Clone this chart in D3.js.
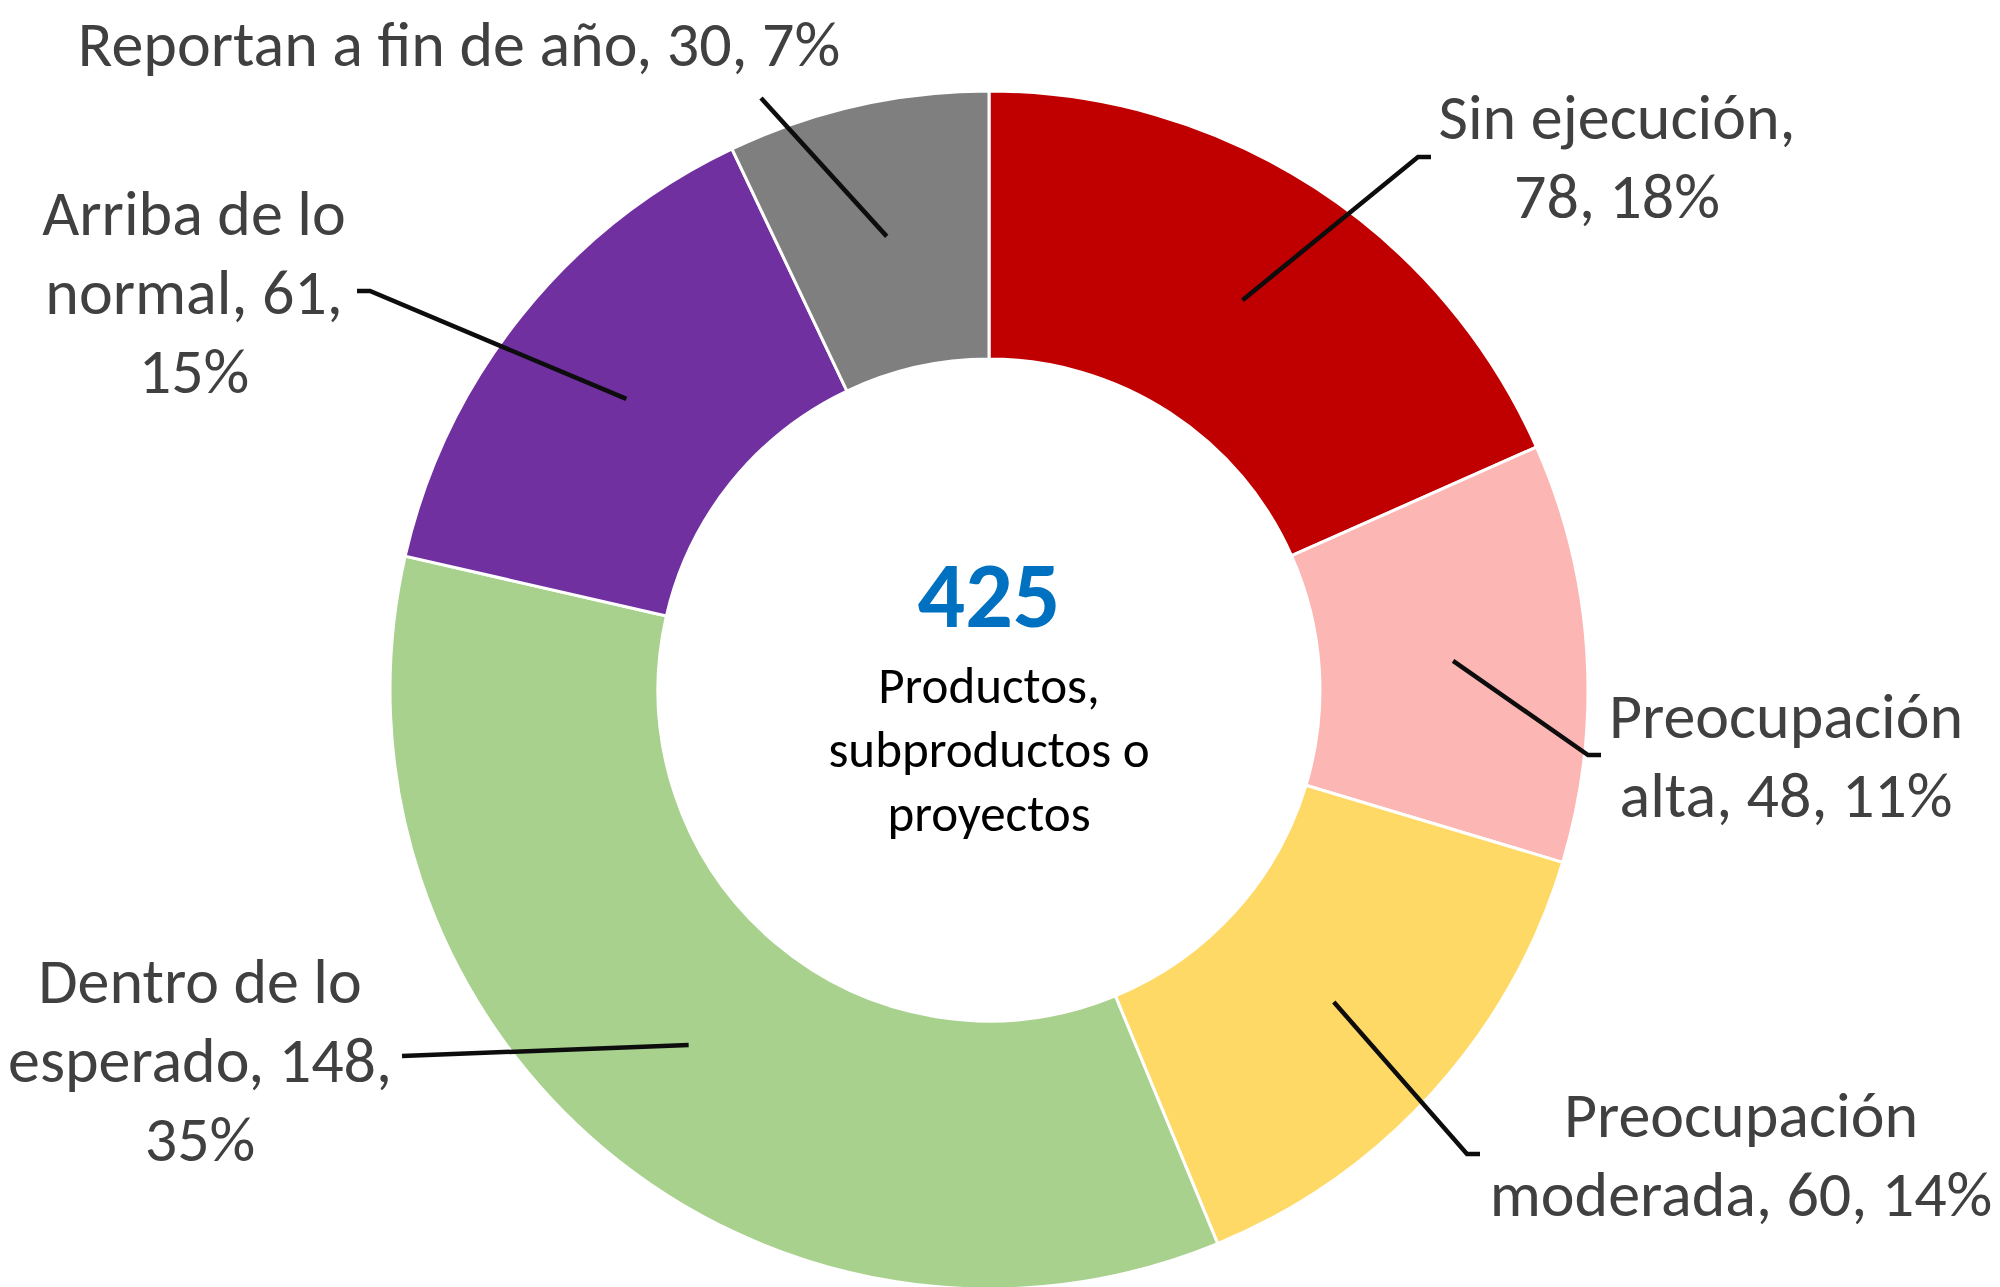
<!DOCTYPE html>
<html>
<head>
<meta charset="utf-8">
<script src="https://cdn.jsdelivr.net/npm/d3@7"></script>
<style>
  body { margin: 0; background: #fff; }
  svg text { font-family: Carlito, Calibri, Lato, sans-serif; }
</style>
</head>
<body>
<script>
// ** Chart data
var categories = ['Sin ejecución', 'Preocupación alta', 'Preocupación moderada',
                  'Dentro de lo esperado', 'Arriba de lo normal', 'Reportan a fin de año'];
var counts = [78, 48, 60, 148, 61, 30];
var percents = ['18%', '11%', '14%', '35%', '15%', '7%'];
var colors = ['#C00000', '#FCB6B4', '#FFD966', '#A9D18E', '#7030A0', '#7F7F7F'];
// label text split into lines as in the original
var labelLines = [
  ['Sin ejecución,', '78, 18%'],
  ['Preocupación', 'alta, 48, 11%'],
  ['Preocupación', 'moderada, 60, 14%'],
  ['Dentro de lo', 'esperado, 148,', '35%'],
  ['Arriba de lo', 'normal, 61,', '15%'],
  ['Reportan a fin de año, 30, 7%']
];
var centerTotal = '425';
var centerLines = ['Productos,', 'subproductos o', 'proyectos'];

// ** Layout
var W = 2000, H = 1287;
var cx = 989, cy = 690, rOuter = 599, rInner = 331;
// label block centers and leader elbow points
var labelPos = [[1617, 156], [1786, 755], [1741, 1154], [200, 1060], [194, 292], [459, 44]];
var elbows = [[[1418, 157], [1431, 157]], [[1588, 755], [1601, 755]], [[1467, 1154], [1480, 1154]],
              [[402, 1056]], [[370, 291], [357, 291]], [[761, 98]]];
var lineH = 79;

var svg = d3.select('body').append('svg')
    .attr('width', W)
    .attr('height', H);

var pie = d3.pie().sort(null).value(function(d){ return d; });
var arcs = pie(counts);
var arc = d3.arc().innerRadius(rInner).outerRadius(rOuter);

var g = svg.append('g').attr('transform', 'translate(' + cx + ',' + cy + ')');

g.selectAll('path')
    .data(arcs)
  .enter().append('path')
    .attr('d', arc)
    .attr('fill', function(d,i){ return colors[i]; })
    .attr('stroke', '#fff')
    .attr('stroke-width', 3);

// ** Leader lines from the slice centroid to the label
svg.selectAll('polyline.leader')
    .data(arcs)
  .enter().append('polyline')
    .attr('class', 'leader')
    .attr('fill', 'none')
    .attr('stroke', '#0d0d0d')
    .attr('stroke-width', 4.5)
    .attr('points', function(d,i){
      var c = arc.centroid(d);
      var pts = [[c[0] + cx, c[1] + cy]].concat(elbows[i]);
      return pts.map(function(p){ return p.join(','); }).join(' ');
    });

// ** Data labels
svg.selectAll('text.label')
    .data(labelLines)
  .enter().append('text')
    .attr('class', 'label')
    .attr('text-anchor', 'middle')
    .attr('fill', '#404040')
    .attr('font-size', 64)
    .each(function(lines, i){
      var t = d3.select(this);
      var y0 = labelPos[i][1] - (lines.length - 1) * lineH / 2;
      lines.forEach(function(s, k){
        t.append('tspan')
          .attr('x', labelPos[i][0])
          .attr('y', y0 + k * lineH)
          .attr('dy', '0.35em')
          .text(s);
      });
    });

// ** Center text
svg.append('text')
    .attr('x', cx).attr('y', 594).attr('dy', '0.35em')
    .attr('text-anchor', 'middle')
    .attr('font-size', 94).attr('font-weight', 'bold')
    .attr('fill', '#0070C0')
    .text(centerTotal);

svg.append('text')
    .attr('text-anchor', 'middle')
    .attr('font-size', 51)
    .attr('fill', '#000')
    .selectAll('tspan')
    .data(centerLines)
  .enter().append('tspan')
    .attr('x', cx)
    .attr('y', function(d,i){ return 685 + i * 64; })
    .attr('dy', '0.35em')
    .text(function(d){ return d; });
</script>
</body>
</html>
